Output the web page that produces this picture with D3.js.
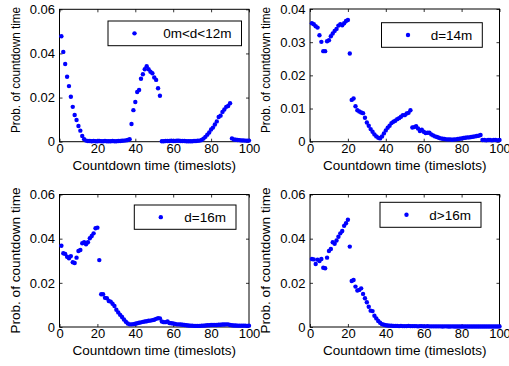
<!DOCTYPE html>
<html>
<head>
<meta charset="utf-8">
<script src="https://cdn.jsdelivr.net/npm/d3@7"></script>
<style>
  body { margin: 0; background: #fff; }
  svg { display: block; font-family: "Liberation Sans", Arial, Helvetica, sans-serif; }
</style>
</head>
<body>
<svg id="chart" width="509" height="366"></svg>
<script>
// timeslots 1..100 (x categories)
const timeslots = d3.range(1, 101);

const xTicks = [0, 20, 40, 60, 80, 100];
const yTicksA = [0, 0.02, 0.04, 0.06];
const yTicksB = [0, 0.01, 0.02, 0.03, 0.04];

const labels = ['0m<d<12m', 'd=14m', 'd=16m', 'd>16m'];

// 0m<d<12m
const probA = [
  0.0478, 0.0407, 0.0352, 0.0294, 0.0252, 0.0204, 0.0158, 0.0121, 0.0098, 0.0071,
  0.0050, 0.0026, 0.0011, 0.0005, 0.0003, 0.0003, 0.0002, 0.0003, 0.0002, 0.0002,
  0.0003, 0.0002, 0.0002, 0.0003, 0.0002, 0.0002, 0.0002, 0.0003, 0.0002, 0.0002,
  0.0003, 0.0003, 0.0004, 0.0005, 0.0006, 0.0008, 0.0011, 0.0080, 0.0143, 0.0180,
  0.0225, 0.0234, 0.0285, 0.0306, 0.0328, 0.0342, 0.0328, 0.0317, 0.0310, 0.0291,
  0.0280, 0.0242, 0.0208, 0.0002, 0.0002, 0.0003, 0.0003, 0.0003, 0.0004, 0.0003,
  0.0003, 0.0004, 0.0004, 0.0003, 0.0003, 0.0003, 0.0002, 0.0002, 0.0002, 0.0002,
  0.0003, 0.0003, 0.0004, 0.0005, 0.0008, 0.0014, 0.0022, 0.0032, 0.0042, 0.0055,
  0.0064, 0.0078, 0.0092, 0.0112, 0.0118, 0.0135, 0.0146, 0.0158, 0.0162, 0.0174,
  0.0015, 0.0010, 0.0009, 0.0008, 0.0007, 0.0006, 0.0006, 0.0005, 0.0005, 0.0005
];

// d=14m
const probB = [
  0.0357, 0.0354, 0.0348, 0.0344, 0.0321, 0.0301, 0.0273, 0.0273, 0.0303, 0.0306,
  0.0318, 0.0326, 0.0334, 0.0340, 0.0350, 0.0354, 0.0351, 0.0357, 0.0364, 0.0367,
  0.0266, 0.0126, 0.0130, 0.0107, 0.0095, 0.0091, 0.0088, 0.0086, 0.0072, 0.0058,
  0.0048, 0.0038, 0.0030, 0.0022, 0.0016, 0.0012, 0.0010, 0.0016, 0.0025, 0.0034,
  0.0042, 0.0048, 0.0056, 0.0060, 0.0063, 0.0068, 0.0071, 0.0075, 0.0080, 0.0080,
  0.0085, 0.0087, 0.0095, 0.0043, 0.0044, 0.0047, 0.0040, 0.0032, 0.0036, 0.0030,
  0.0026, 0.0027, 0.0027, 0.0022, 0.0019, 0.0016, 0.0014, 0.0012, 0.0010, 0.0009,
  0.0008, 0.0007, 0.0007, 0.0007, 0.0006, 0.0007, 0.0007, 0.0008, 0.0009, 0.0010,
  0.0011, 0.0012, 0.0013, 0.0013, 0.0014, 0.0015, 0.0016, 0.0017, 0.0018, 0.0020,
  0.0005, 0.0005, 0.0004, 0.0005, 0.0005, 0.0004, 0.0005, 0.0005, 0.0004, 0.0005
];

// d=16m
const probC = [
  0.0368, 0.0334, 0.0331, 0.0318, 0.0311, 0.0321, 0.0293, 0.0290, 0.0314, 0.0344,
  0.0349, 0.0379, 0.0384, 0.0375, 0.0384, 0.0402, 0.0412, 0.0424, 0.0447, 0.0450,
  0.0303, 0.0148, 0.0148, 0.0132, 0.0130, 0.0118, 0.0115, 0.0105, 0.0095, 0.0078,
  0.0066, 0.0055, 0.0045, 0.0034, 0.0024, 0.0016, 0.0012, 0.0012, 0.0013, 0.0015,
  0.0017, 0.0019, 0.0021, 0.0023, 0.0025, 0.0026, 0.0028, 0.0029, 0.0031, 0.0033,
  0.0037, 0.0040, 0.0039, 0.0025, 0.0022, 0.0022, 0.0025, 0.0018, 0.0017, 0.0016,
  0.0014, 0.0012, 0.0012, 0.0011, 0.0010, 0.0009, 0.0008, 0.0007, 0.0006, 0.0006,
  0.0005, 0.0005, 0.0005, 0.0005, 0.0006, 0.0006, 0.0007, 0.0008, 0.0008, 0.0009,
  0.0009, 0.0009, 0.0009, 0.0010, 0.0010, 0.0011, 0.0011, 0.0012, 0.0012, 0.0009,
  0.0008, 0.0007, 0.0007, 0.0006, 0.0006, 0.0006, 0.0006, 0.0006, 0.0005, 0.0006
];

// d>16m
const probD = [
  0.0308, 0.0306, 0.0285, 0.0305, 0.0299, 0.0308, 0.0268, 0.0266, 0.0314, 0.0344,
  0.0353, 0.0384, 0.0377, 0.0392, 0.0409, 0.0424, 0.0435, 0.0458, 0.0470, 0.0486,
  0.0364, 0.0208, 0.0213, 0.0183, 0.0165, 0.0168, 0.0175, 0.0150, 0.0130, 0.0112,
  0.0092, 0.0074, 0.0072, 0.0051, 0.0039, 0.0027, 0.0019, 0.0013, 0.0010, 0.0008,
  0.0007, 0.0006, 0.0006, 0.0005, 0.0005, 0.0005, 0.0004, 0.0005, 0.0004, 0.0004,
  0.0004, 0.0005, 0.0004, 0.0004, 0.0004, 0.0004, 0.0003, 0.0004, 0.0004, 0.0003,
  0.0003, 0.0004, 0.0003, 0.0003, 0.0003, 0.0003, 0.0003, 0.0003, 0.0003, 0.0002,
  0.0003, 0.0003, 0.0002, 0.0002, 0.0003, 0.0002, 0.0002, 0.0002, 0.0002, 0.0002,
  0.0002, 0.0002, 0.0002, 0.0002, 0.0002, 0.0002, 0.0002, 0.0002, 0.0002, 0.0002,
  0.0002, 0.0002, 0.0002, 0.0002, 0.0002, 0.0002, 0.0002, 0.0002, 0.0002, 0.0002
];

// layout of the four axes (pixel boxes) and their legend boxes
const panels = [
  { values: probA, label: labels[0], yMax: 0.06, yTicks: yTicksA,
    box: { x0: 59.5, x1: 249, y0: 9.3, y1: 141.7 },
    legend: { x: 108, y: 21, w: 133.5, h: 24.7 }, ylab: { size: 12, len: 126, cy: 70 } },
  { values: probB, label: labels[1], yMax: 0.04, yTicks: yTicksB,
    box: { x0: 310, x1: 499.5, y0: 9, y1: 141.7 },
    legend: { x: 381.5, y: 22.7, w: 100.8, h: 24.6 }, ylab: { size: 12, len: 126, cy: 70 } },
  { values: probC, label: labels[2], yMax: 0.06, yTicks: yTicksA,
    box: { x0: 59.5, x1: 249, y0: 194.5, y1: 327 },
    legend: { x: 134.3, y: 205, w: 101.7, h: 24.3 }, ylab: { size: 13.5, len: 146, cy: 260.5 } },
  { values: probD, label: labels[3], yMax: 0.06, yTicks: yTicksA,
    box: { x0: 310, x1: 499.5, y0: 194.5, y1: 327 },
    legend: { x: 380, y: 202.3, w: 101, h: 25 }, ylab: { size: 13.5, len: 146, cy: 260.5 } }
];

const svg = d3.select('#chart');
const tickLen = 3;
const markerR = 2.2;
const blue = '#0000ff';

panels.forEach(p => {
  const { x0, x1, y0, y1 } = p.box;
  const x = d3.scaleLinear().domain([0, 100]).range([x0, x1]);
  const y = d3.scaleLinear().domain([0, p.yMax]).range([y1, y0]);

  const g = svg.append('g');

  // bottom axis with inward ticks, labels below
  const xAxis = g.append('g')
    .attr('transform', `translate(0,${y1})`)
    .call(d3.axisBottom(x).tickValues(xTicks).tickSize(-tickLen).tickPadding(2).tickFormat(d3.format('d')));
  // left axis
  const yAxis = g.append('g')
    .attr('transform', `translate(${x0},0)`)
    .call(d3.axisLeft(y).tickValues(p.yTicks).tickSize(-tickLen).tickPadding(4.5).tickFormat(d => d === 0 ? '0' : d3.format('.2f')(d)));
  // top and right mirror ticks
  const xTop = g.append('g')
    .attr('transform', `translate(0,${y0})`)
    .call(d3.axisTop(x).tickValues(xTicks).tickSize(-tickLen).tickFormat(''));
  const yRight = g.append('g')
    .attr('transform', `translate(${x1},0)`)
    .call(d3.axisRight(y).tickValues(p.yTicks).tickSize(-tickLen).tickFormat(''));

  [xAxis, yAxis, xTop, yRight].forEach(a => {
    a.select('.domain').remove();
    a.selectAll('line').attr('stroke', '#000').attr('stroke-width', 0.8);
    a.selectAll('text')
      .attr('fill', '#000')
      .style('font-family', '"Liberation Sans", Arial, sans-serif')
      .style('font-size', '13px');
  });

  // box
  g.append('rect')
    .attr('x', x0).attr('y', y0)
    .attr('width', x1 - x0).attr('height', y1 - y0)
    .attr('fill', 'none').attr('stroke', '#000').attr('stroke-width', 1);

  // points
  g.append('g')
    .selectAll('circle')
    .data(p.values)
    .join('circle')
    .attr('cx', (d, i) => x(timeslots[i]))
    .attr('cy', d => y(d))
    .attr('r', markerR)
    .attr('fill', blue);

  // axis labels
  g.append('text')
    .attr('x', (x0 + x1) / 2)
    .attr('y', y1 + 28)
    .attr('text-anchor', 'middle')
    .style('font-size', '13.5px')
    .text('Countdown time (timeslots)');

  g.append('text')
    .attr('transform', `translate(${x0 - 40},${p.ylab.cy}) rotate(-90)`)
    .attr('text-anchor', 'middle')
    .attr('textLength', p.ylab.len)
    .attr('lengthAdjust', 'spacingAndGlyphs')
    .style('font-size', p.ylab.size + 'px')
    .text('Prob. of countdown time');

  // legend
  const L = p.legend;
  const lg = g.append('g');
  lg.append('rect')
    .attr('x', L.x).attr('y', L.y).attr('width', L.w).attr('height', L.h)
    .attr('fill', '#fff').attr('stroke', '#000').attr('stroke-width', 1);
  lg.append('circle')
    .attr('cx', L.x + 26.5).attr('cy', L.y + L.h / 2)
    .attr('r', markerR).attr('fill', blue);
  lg.append('text')
    .attr('x', L.x + L.w - 10)
    .attr('y', L.y + L.h / 2)
    .attr('dy', '0.36em')
    .attr('text-anchor', 'end')
    .style('font-size', '13.5px')
    .text(p.label);
});
</script>
</body>
</html>
